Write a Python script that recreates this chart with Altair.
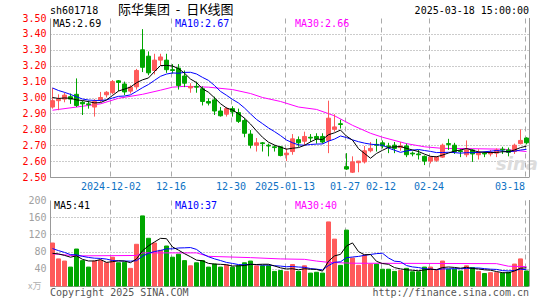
import altair as alt
import numpy as np
import pandas as pd

# ---------------- data ----------------
opens = [2.94, 2.98, 2.99, 3.005, 3.02, 2.97, 2.96, 2.94, 2.985, 3.017,
         3.03, 3.105, 3.085, 3.04, 3.067, 3.30, 3.26, 3.17, 3.235, 3.235,
         3.175, 3.185, 3.135, 3.06, 3.07, 3.055, 2.975, 2.985, 2.915, 2.895,
         2.93, 2.905, 2.855, 2.77, 2.70, 2.715, 2.70, 2.69, 2.69, 2.64,
         2.66, 2.735, 2.725, 2.75, 2.755, 2.755, 2.73, 2.80, 2.835, 2.565,
         2.53, 2.59, 2.595, 2.665, 2.705, 2.715, 2.695, 2.70, 2.685, 2.695,
         2.65, 2.645, 2.63, 2.60, 2.605, 2.625, 2.71, 2.70, 2.665, 2.64,
         2.67, 2.64, 2.65, 2.645, 2.65, 2.675, 2.67, 2.66, 2.71, 2.745]
highs = [3.06, 3.02, 3.03, 3.025, 3.12, 2.98, 2.98, 2.99, 3.035, 3.04,
         3.11, 3.11, 3.10, 3.077, 3.18, 3.43, 3.29, 3.275, 3.275, 3.275,
         3.21, 3.21, 3.17, 3.09, 3.10, 3.07, 2.995, 3.005, 2.94, 2.94,
         2.945, 2.93, 2.87, 2.795, 2.745, 2.72, 2.71, 2.70, 2.695, 2.68,
         2.77, 2.755, 2.785, 2.77, 2.775, 2.775, 2.98, 2.895, 2.86, 2.65,
         2.63, 2.60, 2.695, 2.72, 2.74, 2.73, 2.715, 2.72, 2.72, 2.71,
         2.66, 2.67, 2.635, 2.63, 2.63, 2.71, 2.74, 2.715, 2.675, 2.73,
         2.675, 2.675, 2.66, 2.67, 2.68, 2.69, 2.685, 2.71, 2.80, 2.75]
lows = [2.93, 2.92, 2.97, 2.96, 2.94, 2.89, 2.93, 2.88, 2.97, 3.00,
        3.02, 3.04, 3.015, 3.025, 3.05, 3.16, 3.14, 3.145, 3.20, 3.155,
        3.15, 3.05, 3.065, 3.03, 3.03, 2.95, 2.95, 2.89, 2.88, 2.88,
        2.88, 2.84, 2.75, 2.68, 2.66, 2.66, 2.63, 2.66, 2.63, 2.60,
        2.64, 2.69, 2.70, 2.72, 2.71, 2.71, 2.65, 2.785, 2.805, 2.545,
        2.525, 2.53, 2.585, 2.655, 2.66, 2.68, 2.65, 2.65, 2.665, 2.625,
        2.63, 2.61, 2.575, 2.585, 2.595, 2.62, 2.67, 2.645, 2.625, 2.625,
        2.595, 2.61, 2.625, 2.63, 2.625, 2.645, 2.63, 2.645, 2.705, 2.705]
closes = [2.98, 2.99, 3.015, 2.99, 2.95, 2.96, 2.955, 2.975, 3.00, 3.033,
          3.10, 3.095, 3.035, 3.065, 3.17, 3.19, 3.155, 3.235, 3.255, 3.175,
          3.17, 3.075, 3.09, 3.07, 3.065, 2.975, 2.965, 2.915, 2.885, 2.93,
          2.91, 2.85, 2.775, 2.70, 2.715, 2.71, 2.695, 2.685, 2.635, 2.65,
          2.74, 2.715, 2.755, 2.745, 2.74, 2.72, 2.87, 2.815, 2.83, 2.55,
          2.595, 2.60, 2.665, 2.68, 2.70, 2.695, 2.69, 2.68, 2.695, 2.64,
          2.645, 2.64, 2.60, 2.625, 2.625, 2.70, 2.705, 2.66, 2.66, 2.67,
          2.645, 2.655, 2.645, 2.655, 2.67, 2.67, 2.655, 2.70, 2.73, 2.715]
volumes = [100, 63, 58, 44, 86, 59, 44, 58, 60, 54,
           67, 54, 55, 41, 97, 163, 111, 100, 83, 93,
           67, 74, 59, 47, 54, 59, 44, 51, 44, 49,
           44, 47, 54, 58, 47, 47, 47, 34, 36, 34,
           50, 34, 47, 30, 32, 30, 149, 109, 48, 130,
           65, 48, 72, 51, 51, 39, 39, 34, 36, 41,
           33, 33, 44, 44, 36, 58, 39, 39, 35, 47,
           43, 34, 29, 31, 31, 30, 32, 51, 63, 35]
# closes / volumes of the sessions just before the first visible candle (estimated)
pre_closes = [3.15, 3.13, 3.12, 3.10, 3.10, 3.02, 3.00, 3.00, 3.00]
pre_volumes = [110, 100, 95, 90, 95, 70, 75, 65, 70]
# 30-day averages
ma30_idx = [0, 5, 8, 11, 15, 18, 20, 22, 26, 30, 33, 35, 38, 41, 44, 47, 50, 53, 55, 59, 62, 65, 70, 75, 79]
ma30_price = [2.92, 2.945, 2.96, 2.995, 3.02, 3.046, 3.065, 3.07, 3.065, 3.05, 3.025, 3.0, 2.975,
              2.94, 2.925, 2.885, 2.825, 2.775, 2.75, 2.71, 2.69, 2.68, 2.678, 2.675, 2.66]
vma30_idx = [0, 4, 14, 15, 24, 26, 33, 38, 42, 44, 46, 50, 74, 76, 79]
vma30_vol = [75, 70, 71, 77, 77, 69, 66, 63, 62, 58, 55, 53, 52, 46, 45]

tick_idx = [10, 20, 30, 39, 49, 55, 63, 79]
tick_labels = ["2024-12-02", "12-16", "12-30", "2025-01-13", "01-27", "02-12", "02-24", "03-18"]
price_ticks = [2.5, 2.6, 2.7, 2.8, 2.9, 3.0, 3.1, 3.2, 3.3, 3.4, 3.5]
vol_ticks = [40, 80, 120, 160, 200]
price_ma_labels = ["MA5:2.69", "MA10:2.67", "MA30:2.66"]
vol_ma_labels = ["MA5:41", "MA10:37", "MA30:40"]
symbol = "sh601718"
title_text = "际华集团\u00a0\u00a0-\u00a0\u00a0日K线图"
stamp = "2025-03-18 15:00:00"
copyright_text = "Copyright 2025 SINA.COM"
url_text = "http://finance.sina.com.cn"
unit_text = "x万"

# ---------------- tables ----------------
n = len(closes)
df = pd.DataFrame({"i": np.arange(n), "open": opens, "high": highs, "low": lows,
                   "close": closes, "vol": volumes})
df["dir"] = np.where(df["close"] >= df["open"], "up", "down")

allc = pd.Series(pre_closes + closes)
allv = pd.Series(pre_volumes + volumes)
k = len(pre_closes)
df["ma5"] = allc.rolling(5).mean().iloc[k:].values
df["ma10"] = allc.rolling(10).mean().iloc[k:].values
df["vma5"] = allv.rolling(5).mean().iloc[k:].values
df["vma10"] = allv.rolling(10).mean().iloc[k:].values
ma30_df = pd.DataFrame({"i": ma30_idx, "v": ma30_price})
vma30_df = pd.DataFrame({"i": vma30_idx, "v": vma30_vol})

# ---------------- styling ----------------
W, HP, HV = 479, 159, 86
LEFT, TOP = 50, 18
MONO = "DejaVu Sans Mono"
UP, DOWN = "#ff5a5a", "#00a600"
GRID = "#999999"
col_scale = alt.Scale(domain=["up", "down"], range=[UP, DOWN])
d0 = -2.5 / 6
xs = alt.Scale(domain=[d0, d0 + W / 6], nice=False, zero=False, padding=0)
ys_p = alt.Scale(domain=[2.5, 3.5], nice=False, zero=False, padding=0)
ys_v = alt.Scale(domain=[0, 200], nice=False, zero=False, padding=0)

label_expr = ""
for t, lab in zip(tick_idx[:-1], tick_labels[:-1]):
    label_expr += f"datum.value < {t + 0.5} ? '{lab}' : "
label_expr += f"'{tick_labels[-1]}'"
xvals = [t - 1 / 3 for t in tick_idx]

x_axis_p = alt.Axis(values=xvals, labelExpr=label_expr, title=None, ticks=False,
                    labelFont=MONO, labelFontSize=10, labelColor="#0e72c4", labelPadding=4,
                    labelFlush=8, labelOverlap=False, grid=True, gridDash=[5, 4],
                    gridColor="#aaaaaa", domainColor=GRID)
x_axis_v = alt.Axis(values=xvals, labels=False, title=None, ticks=False, grid=True,
                    gridDash=[5, 4], gridColor="#aaaaaa", domainColor=GRID)
y_axis_p = alt.Axis(values=price_ticks, format=".2f", title=None, ticks=False,
                    labelFont=MONO, labelFontSize=10, labelColor="#ff0000", labelPadding=4,
                    grid=True, gridDash=[1, 2], gridColor=GRID, domainColor=GRID,
                    gridOpacity={"condition": {"test": "datum.value > 3.49", "value": 0}, "value": 1})
y_axis_v = alt.Axis(values=vol_ticks, format="d", title=None, ticks=False,
                    labelFont=MONO, labelFontSize=10, labelColor="#a0a0a0", labelPadding=4,
                    grid=True, gridDash=[1, 2], gridColor=GRID, domainColor=GRID,
                    gridOpacity={"condition": {"test": "datum.value > 199", "value": 0}, "value": 1})


def txt(text, x, y, color, size=10, align="left", font=MONO, **kw):
    return alt.Chart(pd.DataFrame({"t": [text]})).mark_text(
        align=align, baseline="alphabetic", font=font, fontSize=size, color=color, **kw
    ).encode(text="t:N", x=alt.value(x), y=alt.value(y))


def border(h):
    return alt.Chart(pd.DataFrame({"t": [0]})).mark_rule(color=GRID, strokeWidth=1).encode(
        x=alt.value(W + 0.5), y=alt.value(0), y2=alt.value(h))


# invisible frame that fixes the whole picture to 545 x 300 with the plot at (50, 18)
frame = alt.Chart(pd.DataFrame({"t": [0]})).mark_rect(opacity=0).encode(
    x=alt.value(-LEFT), x2=alt.value(545 - LEFT), y=alt.value(-TOP), y2=alt.value(300 - TOP))

# ---------------- price panel ----------------
base = alt.Chart(df)
wicks = base.mark_rule(strokeWidth=1).encode(
    x=alt.X("i:Q", scale=xs, axis=x_axis_p),
    y=alt.Y("low:Q", scale=ys_p, axis=y_axis_p),
    y2="high:Q",
    color=alt.Color("dir:N", scale=col_scale, legend=None))
bodies = base.mark_bar(size=4, strokeWidth=1).encode(
    x=alt.X("i:Q", scale=xs, axis=x_axis_p),
    y=alt.Y("open:Q", scale=ys_p, axis=y_axis_p),
    y2="close:Q",
    color=alt.Color("dir:N", scale=col_scale, legend=None),
    stroke=alt.Stroke("dir:N", scale=col_scale, legend=None))
ma5_p = base.mark_line(color="black", strokeWidth=1).encode(
    x=alt.X("i:Q", scale=xs, axis=x_axis_p), y=alt.Y("ma5:Q", scale=ys_p, axis=y_axis_p))
ma10_p = base.mark_line(color="#0000ff", strokeWidth=1).encode(
    x=alt.X("i:Q", scale=xs, axis=x_axis_p), y=alt.Y("ma10:Q", scale=ys_p, axis=y_axis_p))
ma30_p = alt.Chart(ma30_df).mark_line(color="#ff00ff", strokeWidth=1).encode(
    x=alt.X("i:Q", scale=xs, axis=x_axis_p), y=alt.Y("v:Q", scale=ys_p, axis=y_axis_p))

price = alt.layer(
    frame,
    txt("sina", 446, 152, "#dcdcdc", size=18, font="DejaVu Sans", fontStyle="italic", fontWeight="bold"),
    ma30_p, wicks, bodies, ma10_p, ma5_p, border(HP),
    txt(symbol, 0, -4, "black"),
    txt(title_text, 68, -4, "black", size=13, font="Noto Sans CJK SC"),
    txt(stamp, W, -4, "black", align="right"),
    txt(price_ma_labels[0], 3, 9, "black"),
    txt(price_ma_labels[1], 125, 9, "#0000ff"),
    txt(price_ma_labels[2], 245, 9, "#ff00ff"),
).properties(width=W, height=HP)

# ---------------- volume panel ----------------
vbars = base.mark_bar(size=4, strokeWidth=1).encode(
    x=alt.X("i:Q", scale=xs, axis=x_axis_v),
    y=alt.Y("vol:Q", scale=ys_v, axis=y_axis_v),
    color=alt.Color("dir:N", scale=col_scale, legend=None),
    stroke=alt.Stroke("dir:N", scale=col_scale, legend=None))
vma5 = base.mark_line(color="black", strokeWidth=1).encode(
    x=alt.X("i:Q", scale=xs, axis=x_axis_v), y=alt.Y("vma5:Q", scale=ys_v, axis=y_axis_v))
vma10 = base.mark_line(color="#0000ff", strokeWidth=1).encode(
    x=alt.X("i:Q", scale=xs, axis=x_axis_v), y=alt.Y("vma10:Q", scale=ys_v, axis=y_axis_v))
vma30 = alt.Chart(vma30_df).mark_line(color="#ff00ff", strokeWidth=1).encode(
    x=alt.X("i:Q", scale=xs, axis=x_axis_v), y=alt.Y("v:Q", scale=ys_v, axis=y_axis_v))

vol = alt.layer(
    vbars, vma30, vma10, vma5, border(HV),
    txt(vol_ma_labels[0], 4, 9, "black"),
    txt(vol_ma_labels[1], 125, 9, "#0000ff"),
    txt(vol_ma_labels[2], 245, 9, "#ff00ff"),
    txt(unit_text, -22, 89, "#b0b0b0", size=9, font="Noto Sans CJK SC"),
    txt(copyright_text, 0, 96, "#555555"),
    txt(url_text, W, 96, "#555555", align="right"),
).properties(width=W, height=HV)

chart = alt.vconcat(price, vol, spacing=23, bounds="flush").properties(
    autosize=alt.AutoSizeParams(type="pad"),
    padding=0,
    background="white",
).configure_view(stroke=None)

chart.save("out.html", embed_options={"renderer": "svg", "actions": False})
